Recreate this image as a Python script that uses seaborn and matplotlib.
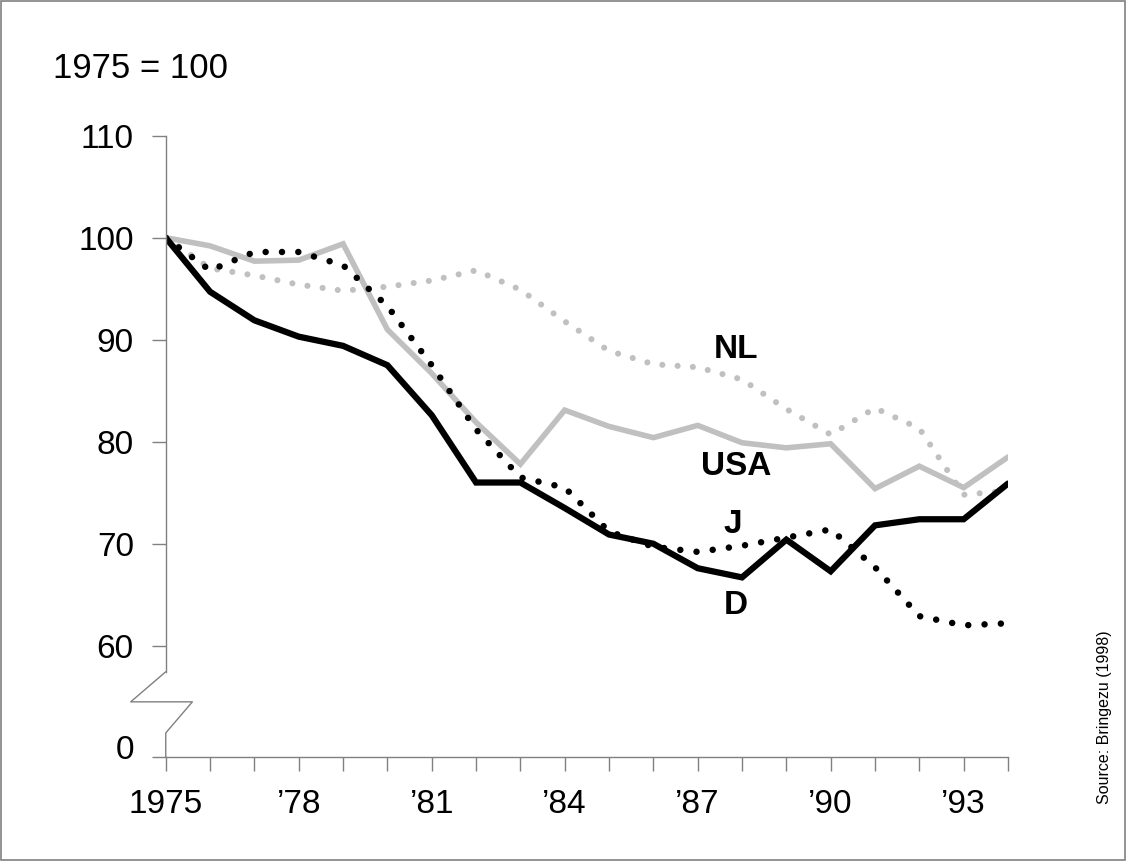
import numpy as np
import pandas as pd
import matplotlib
matplotlib.use('Agg')
import matplotlib.pyplot as plt
from matplotlib.transforms import ScaledTranslation
import seaborn as sns

# =============================================================================
# DATOS (1975 = 100)
# =============================================================================
years = list(range(1975, 1995))

d_vals = [100, 94.7, 91.9, 90.3, 89.4, 87.5, 82.6, 76.0, 76.0, 73.5,
          70.9, 70.0, 67.6, 66.7, 70.4, 67.3, 71.8, 72.4, 72.4, 75.9]
j_vals = [100, 96.8, 98.6, 98.6, 97.3, 93.3, 87.5, 81.2, 76.5, 75.5,
          71.2, 69.7, 69.2, 69.8, 70.6, 71.4, 67.7, 62.9, 62.0, 62.2]
usa_vals = [100, 99.2, 97.7, 97.8, 99.4, 91.0, 86.7, 81.9, 77.8, 83.1,
            81.5, 80.4, 81.6, 79.9, 79.4, 79.8, 75.4, 77.6, 75.5, 78.5]
nl_vals = [100, 97.0, 96.3, 95.4, 94.8, 95.2, 95.8, 96.8, 94.9, 91.8,
           88.9, 87.6, 87.3, 86.1, 83.2, 80.7, 83.3, 81.3, 74.8, 75.2]

series_labels = ['NL', 'USA', 'J', 'D']
label_pos = {'NL': (1987.86, 89.0), 'USA': (1987.86, 77.6),
             'J': (1987.8, 71.9), 'D': (1987.85, 63.9)}

x_tick_labels = ['1975', '\u201978', '\u201981', '\u201984',
                 '\u201987', '\u201990', '\u201993']
y_ticks = [60, 70, 80, 90, 100, 110]

GRIS = '#c0c0c0'
EJE = '#808080'

# =============================================================================
# ESTILO
# =============================================================================
sns.set_theme(style='white')
plt.rcParams['font.family'] = ['Liberation Sans', 'DejaVu Sans']
plt.rcParams['text.color'] = 'black'

fig = plt.figure(figsize=(11.26, 8.61), dpi=100)
ax = fig.add_axes([0.1472, 0.1204, 0.8952 - 0.1472, 0.8424 - 0.1204])

punteado = (0, (0.001, 2.5))

sns.lineplot(x=years, y=nl_vals, color=GRIS, lw=4.4, linestyle=punteado,
             dash_capstyle='round', ax=ax)
sns.lineplot(x=years, y=usa_vals, color=GRIS, lw=4.0,
             solid_joinstyle='miter', ax=ax)
sns.lineplot(x=years, y=j_vals, color='black', lw=4.7, linestyle=punteado,
             dash_capstyle='round', ax=ax)
sns.lineplot(x=years, y=d_vals, color='black', lw=4.5,
             solid_joinstyle='miter', ax=ax)

for nombre in series_labels:
    px, py = label_pos[nombre]
    ax.text(px, py, nombre, ha='center', va='center', fontsize=24,
            fontweight='bold', color='black')

# =============================================================================
# EJES
# =============================================================================
y_bottom = 49.06
ax.set_xlim(1975, 1994)
ax.set_ylim(y_bottom, 110)

ax.set_xticks(years)
xlabs = []
for yr in years:
    if (yr - 1975) % 3 == 0:
        xlabs.append(x_tick_labels[(yr - 1975) // 3])
    else:
        xlabs.append('')
ax.set_xticklabels(xlabs)

ax.set_yticks([y_bottom] + y_ticks)
ax.set_yticklabels(['0'] + [str(v) for v in y_ticks])

ax.tick_params(axis='both', direction='out', length=10, width=1,
               color=EJE, labelsize=24, labelcolor='black', pad=13)
ax.tick_params(axis='both', which='both', bottom=True, left=True)

# la etiqueta "0" un poco por encima del eje
lab0 = ax.get_yticklabels()[0]
lab0.set_transform(lab0.get_transform() +
                   ScaledTranslation(0, 0.1, fig.dpi_scale_trans))

for s in ['top', 'right']:
    ax.spines[s].set_visible(False)
ax.spines['bottom'].set_color(EJE)
ax.spines['bottom'].set_linewidth(1)
ax.spines['left'].set_color(EJE)
ax.spines['left'].set_linewidth(1)
ax.spines['left'].set_bounds(57.45, 110)

# corte del eje y (zigzag)
trans = ax.get_yaxis_transform()
ax.plot([0, -0.0416, 0.0316, 0, 0],
        [57.45, 54.5, 54.5, 51.45, y_bottom],
        color=EJE, lw=1, transform=trans, clip_on=False)

ax.grid(False)

fig.text(53 / 1126, 1 - 68 / 861, '1975 = 100', ha='left', va='center',
         fontsize=25, color='black')
fig.text(1105 / 1126, 1 - 717 / 861, 'Source: Bringezu (1998)',
         rotation=90, ha='center', va='center', fontsize=11.5, color='black')

# marco de la figura
fig.patches.append(plt.Rectangle((0.001, 0.001), 0.998, 0.998,
                                 transform=fig.transFigure, fill=False,
                                 edgecolor=EJE, lw=1.2))

fig.savefig('out.png', dpi=100)
